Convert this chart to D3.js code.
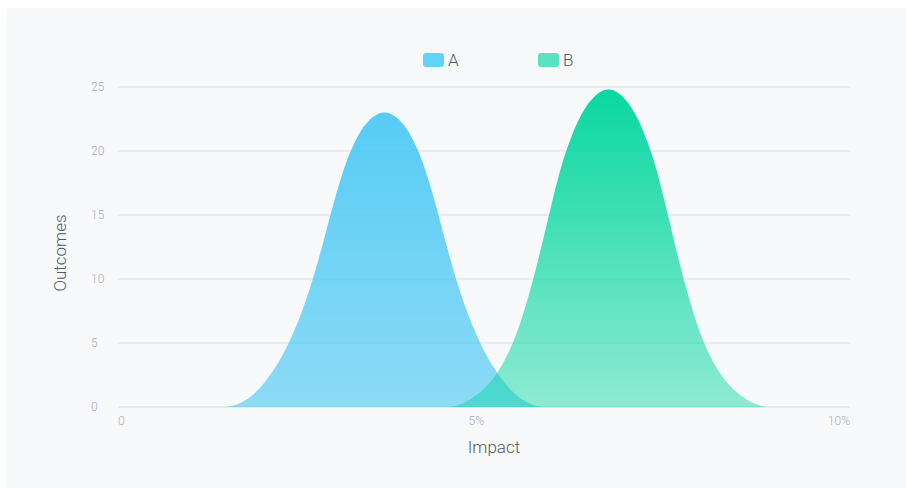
<!DOCTYPE html>
<html>
<head>
<meta charset="utf-8">
<script src="https://cdn.jsdelivr.net/npm/d3@7"></script>
<style>
  html, body { margin: 0; padding: 0; background: #ffffff; }
  svg { display: block; font-family: Roboto, "Noto Sans", sans-serif; }
</style>
</head>
<body>
<svg id="chart" width="906" height="488"></svg>
<script>
// Impact (%) sample positions and outcome counts for each series
const seriesNames = ["A", "B"];
const impactA = [1.44, 1.54, 1.64, 1.74, 1.84, 1.94, 2.04, 2.14, 2.24, 2.34, 2.44, 2.54,
                 2.64, 2.74, 2.84, 2.94, 3.04, 3.14, 3.24, 3.34, 3.44, 3.54, 3.64,
                 3.74, 3.84, 3.94, 4.04, 4.14, 4.24, 4.34, 4.44, 4.54, 4.64, 4.74,
                 4.84, 4.94, 5.04, 5.14, 5.24, 5.34, 5.44, 5.54, 5.64, 5.74, 5.84];
const outcomesA = [0, 0.05, 0.23, 0.52, 0.94, 1.5, 2.2, 3.02, 3.98, 5.1, 6.4, 7.9,
                   9.6, 11.55, 13.65, 15.8, 17.75, 19.45, 20.75, 21.75, 22.45, 22.86, 23,
                   22.86, 22.45, 21.75, 20.75, 19.45, 17.75, 15.8, 13.65, 11.55, 9.6, 7.9,
                   6.4, 5.1, 3.98, 3.02, 2.2, 1.5, 0.94, 0.52, 0.23, 0.05, 0];
const impactB = [4.5, 4.6, 4.7, 4.8, 4.9, 5.0, 5.1, 5.2, 5.3, 5.4, 5.5, 5.6,
                 5.7, 5.8, 5.9, 6.0, 6.1, 6.2, 6.3, 6.4, 6.5, 6.6, 6.7,
                 6.8, 6.9, 7.0, 7.1, 7.2, 7.3, 7.4, 7.5, 7.6, 7.7, 7.8,
                 7.9, 8.0, 8.1, 8.2, 8.3, 8.4, 8.5, 8.6, 8.7, 8.8, 8.9];
const outcomesB = [0, 0.08, 0.27, 0.55, 0.93, 1.42, 2.05, 2.85, 3.85, 5.1, 6.65, 8.5,
                   10.6, 12.9, 15.3, 17.6, 19.6, 21.2, 22.5, 23.5, 24.2, 24.65, 24.8,
                   24.65, 24.2, 23.5, 22.5, 21.2, 19.6, 17.6, 15.3, 12.9, 10.6, 8.5,
                   6.65, 5.1, 3.85, 2.85, 2.05, 1.42, 0.93, 0.55, 0.27, 0.08, 0];
const xTickValues = [0, 5, 10];
const xTickLabels = ["0", "5%", "10%"];
const yTickValues = [0, 5, 10, 15, 20, 25];

const svg = d3.select("#chart");
const W = 906, H = 488;
const plot = { left: 118, right: 850, top: 87, bottom: 407 };

// panel background
svg.append("rect")
  .attr("x", 7).attr("y", 8)
  .attr("width", W - 7).attr("height", H - 8)
  .attr("fill", "#f8f9fb");

const x = d3.scaleLinear().domain([0, 10]).range([plot.left, plot.right]);
const y = d3.scaleLinear().domain([0, 25]).range([plot.bottom, plot.top]);

// vertical fade for the two areas
const defs = svg.append("defs");
const gradSpec = [
  { id: "gradA", color: "rgb(69,199,244)", top: 0.9, bottom: 0.6 },
  { id: "gradB", color: "rgb(0,214,157)", top: 0.96, bottom: 0.43 }
];
gradSpec.forEach(g => {
  const lg = defs.append("linearGradient")
    .attr("id", g.id).attr("x1", 0).attr("y1", 0).attr("x2", 0).attr("y2", 1);
  lg.append("stop").attr("offset", "0%").attr("stop-color", g.color).attr("stop-opacity", g.top);
  lg.append("stop").attr("offset", "100%").attr("stop-color", g.color).attr("stop-opacity", g.bottom);
});

// horizontal grid lines
svg.append("g")
  .selectAll("line")
  .data(yTickValues)
  .join("line")
  .attr("x1", plot.left).attr("x2", plot.right)
  .attr("y1", d => y(d)).attr("y2", d => y(d))
  .attr("stroke", d => d === 0 ? "#e1e3e6" : "#e5e7ea")
  .attr("stroke-width", 1.6);

// y tick labels
svg.append("g")
  .selectAll("text")
  .data(yTickValues)
  .join("text")
  .attr("x", 91)
  .attr("y", d => y(d))
  .attr("dy", "0.35em")
  .attr("text-anchor", "start")
  .attr("font-size", 12)
  .attr("font-weight", 300)
  .attr("fill", "#a9acb1")
  .text(d => d);

// x tick labels
svg.append("g")
  .selectAll("text")
  .data(xTickValues)
  .join("text")
  .attr("x", d => x(d))
  .attr("y", 421)
  .attr("dy", "0.35em")
  .attr("text-anchor", (d, i) => i === 0 ? "start" : "end")
  .attr("font-size", 12)
  .attr("font-weight", 300)
  .attr("fill", "#a9acb1")
  .text((d, i) => xTickLabels[i]);

// areas
const area = d3.area()
  .x(d => x(d[0]))
  .y0(y(0))
  .y1(d => y(d[1]))
  .curve(d3.curveMonotoneX);

const dataA = impactA.map((v, i) => [v, outcomesA[i]]);
const dataB = impactB.map((v, i) => [v, outcomesB[i]]);

svg.append("path").datum(dataA).attr("d", area).attr("fill", "url(#gradA)");
svg.append("path").datum(dataB).attr("d", area).attr("fill", "url(#gradB)");

// axis titles
svg.append("text")
  .attr("x", 494).attr("y", 453)
  .attr("text-anchor", "middle")
  .attr("font-size", 17)
  .attr("font-weight", 300)
  .attr("fill", "#555a60")
  .text("Impact");

svg.append("text")
  .attr("transform", "translate(66,253) rotate(-90)")
  .attr("text-anchor", "middle")
  .attr("font-size", 17)
  .attr("font-weight", 300)
  .attr("fill", "#555a60")
  .text("Outcomes");

// legend
const legendColors = ["#5fd3f8", "#58e4c0"];
const legendX = [423, 538];
const legend = svg.append("g")
  .selectAll("g")
  .data(seriesNames)
  .join("g")
  .attr("transform", (d, i) => `translate(${legendX[i]},53)`);
legend.append("rect")
  .attr("width", 21).attr("height", 14).attr("rx", 3)
  .attr("fill", (d, i) => legendColors[i]);
legend.append("text")
  .attr("x", 25).attr("y", 12.5)
  .attr("font-size", 17)
  .attr("font-weight", 300)
  .attr("fill", "#555a60")
  .text(d => d);
</script>
</body>
</html>
